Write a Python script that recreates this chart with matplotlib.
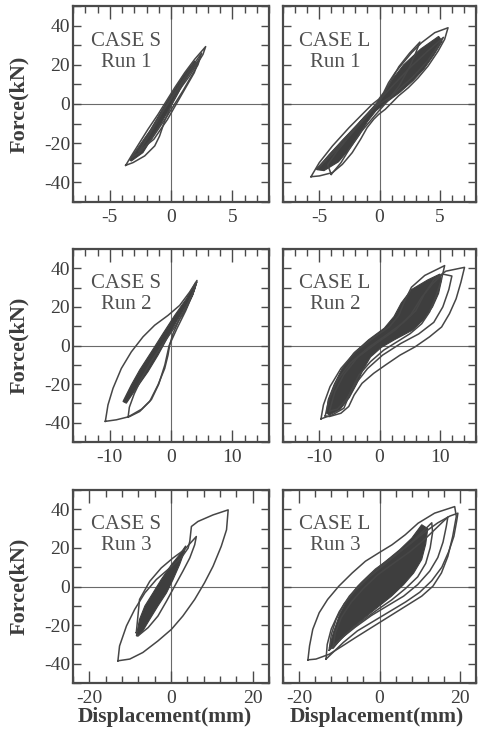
import matplotlib
matplotlib.use('Agg')
import matplotlib.pyplot as plt
from matplotlib.ticker import MultipleLocator

plt.rcParams['font.family'] = ['Liberation Serif', 'DejaVu Serif']
plt.rcParams['axes.unicode_minus'] = False

# ---------------- data (displacement mm, force kN) ----------------
Y_TICKS = [-40, -20, 0, 20, 40]
CASES = ['CASE S', 'CASE L']
RUNS = ['Run 1', 'Run 2', 'Run 3']
XLIMS = [8, 16, 24]
X_MAJOR = [5, 10, 20]
X_MINOR = [1, 2, 4]

# CASE S Run 1
S1_OUTER = [(-3.70, -31.3), (-3.24, -26.5), (-2.56, -19.7), (-1.88, -12.9), (-1.06, -5.3),
            (-0.38, 1.5), (0.30, 8.3), (1.12, 16.0), (1.93, 22.8), (2.83, 29.3),
            (2.61, 25.3), (2.20, 21.1), (1.52, 14.3), (0.71, 7.5), (0.16, 1.5),
            (-0.11, -2.7), (-0.52, -8.7), (-0.93, -16.3), (-1.33, -21.4), (-2.15, -26.5),
            (-3.10, -29.9)]
S1_LOOP2 = [(-3.2, -27), (-1.5, -12), (0.0, 3), (1.5, 17), (2.5, 26), (2.2, 20), (1.0, 7),
            (-0.3, -6), (-1.6, -18), (-2.6, -25)]
S1_LOOP3 = [(-2.6, -24), (-1.8, -16), (-0.7, -4), (0.6, 8), (1.8, 18), (2.3, 23), (1.9, 16),
            (0.8, 4), (-0.3, -8), (-1.4, -18)]
S1_CORE = [(-3.37, -28.6), (-1.74, -13.8), (-0.38, 0.7), (0.98, 14.3), (1.93, 21.9),
           (2.07, 21.1), (1.12, 11.7), (0.16, 0.7), (-0.93, -11.2), (-2.29, -24.8),
           (-3.24, -29.1)]

# CASE L Run 1
L1_OUTER = [(-5.68, -37.1), (-4.99, -29.9), (-3.90, -21.4), (-2.53, -12.1), (-1.44, -5.3),
            (-0.61, -0.2), (-0.07, 2.4), (0.34, 5.8), (0.75, 10.9), (1.30, 16.0),
            (1.85, 20.2), (2.67, 26.2), (3.49, 31.3), (4.58, 36.4), (5.68, 38.9),
            (5.40, 33.0), (4.86, 27.0), (4.03, 19.4), (3.21, 13.4), (2.39, 8.3),
            (1.57, 4.1), (1.03, 0.7), (0.48, -2.7), (-0.07, -5.3), (-0.48, -7.8),
            (-1.03, -12.1), (-1.57, -18.0), (-2.26, -24.8), (-3.08, -30.8), (-3.90, -35.0),
            (-4.99, -36.7)]
L1_LOOP2 = [(-4.0, -35.9), (-4.3, -31), (-3.5, -24), (-2.3, -15), (-1.0, -6), (0.0, 1),
            (0.8, 10), (1.6, 19), (2.5, 26), (3.35, 31.6), (3.0, 26), (2.5, 19), (1.6, 9),
            (0.6, 1), (-0.4, -6), (-1.5, -14), (-2.5, -23), (-3.2, -30)]
L1_LOOP3 = [(-5.2, -33), (-4.0, -25), (-2.5, -15), (-1.0, -5), (0.0, 2), (1.2, 10),
            (2.6, 19), (4.0, 27), (5.3, 34), (4.9, 30), (4.0, 22), (2.8, 14), (1.0, 4),
            (-0.3, -1), (-1.3, -7), (-2.6, -17), (-3.8, -25), (-4.8, -31)]
L1_CORE = [(-5.2, -33.5), (-4.2, -26), (-3.0, -18), (-1.6, -9), (-0.4, -1), (0.3, 5),
           (1.0, 12), (2.0, 20), (3.4, 28), (4.9, 34.5), (5.2, 32), (4.5, 25), (3.7, 18),
           (2.8, 12), (1.7, 6), (0.6, 1), (-0.3, -3.5), (-1.0, -9), (-1.7, -16),
           (-2.5, -23), (-3.4, -29.5), (-4.6, -34)]

# CASE S Run 2
S2_OUTER = [(-10.72, -39.3), (-10.29, -30.8), (-9.47, -22.2), (-8.11, -11.9), (-6.48, -3.3),
            (-4.57, 4.5), (-2.67, 10.5), (-0.49, 15.6), (1.42, 20.8), (3.05, 27.7),
            (4.24, 33.7), (3.86, 29.4), (2.78, 21.6), (1.42, 13.9), (0.33, 6.2),
            (-0.22, 0.2), (-0.49, -5.0), (-1.03, -11.9), (-2.12, -20.4), (-3.48, -29.0),
            (-5.12, -34.2), (-6.75, -36.8), (-8.92, -38.5)]
S2_LOOP2 = [(-7.0, -37), (-6.8, -32), (-6.0, -25), (-4.8, -17), (-3.2, -8), (-1.5, 0),
            (0.5, 9), (2.2, 18), (3.5, 26), (4.2, 33), (3.6, 27), (2.4, 18), (1.0, 9),
            (-0.3, 0), (-1.0, -10), (-2.0, -20), (-3.2, -28), (-4.8, -33)]
S2_CORE = [(-7.84, -29.0), (-6.48, -20.4), (-5.12, -12.7), (-3.21, -3.3), (-1.31, 6.2),
           (0.60, 15.6), (2.50, 24.2), (4.03, 32.8), (3.86, 29.4), (2.50, 20.8),
           (0.87, 12.2), (-0.49, 4.5), (-2.12, -5.0), (-3.76, -13.6), (-5.66, -22.2),
           (-7.29, -29.9)]

# CASE L Run 2
L2_LOOP_A = [(-9.7, -38.0), (-9.3, -30.8), (-8.2, -21.3), (-6.4, -11.9), (-4.0, -3.3),
             (-1.0, 4.0), (1.6, 9.6), (3.2, 15.6), (4.1, 22.5), (5.3, 30.2), (7.5, 36.3),
             (10.8, 41.4), (10.3, 34.5), (9.4, 25.9), (8.3, 17.4), (7.0, 11.3), (5.1, 6.2),
             (2.9, 1.9), (0.7, -2.4), (-1.5, -8.4), (-3.4, -15.3), (-4.8, -23.9),
             (-5.9, -32.5), (-7.8, -35.9)]
L2_LOOP_B = [(-9.0, -36.5), (-8.4, -28), (-7.0, -18), (-4.8, -9), (-1.8, -1), (1.4, 6),
             (4.0, 12), (6.0, 18), (7.5, 27), (9.0, 34), (11.0, 38.5), (14.1, 40.5),
             (13.5, 32.8), (12.7, 24.2), (11.6, 16.5), (10.3, 9.6), (8.3, 4.5), (5.9, -0.7),
             (3.4, -5.0), (1.0, -10.1), (-0.96, -14.4), (-2.9, -19.6), (-4.2, -25.6),
             (-5.1, -31.6), (-6.4, -35.1), (-8.3, -36.8)]
L2_LOOP_C = [(-8.3, -34), (-7.4, -24), (-5.9, -15), (-3.6, -6), (-0.6, 1), (2.6, 8),
             (5.2, 16), (7.0, 25), (8.8, 32), (10.5, 37), (12.0, 36), (11.5, 29),
             (10.5, 20), (9.0, 12), (6.5, 6), (3.5, 1), (0.5, -5), (-2.0, -12),
             (-4.0, -20), (-5.5, -28), (-7.0, -33)]
L2_CORE = [(-8.8, -35), (-8.5, -28), (-7.5, -20), (-6.2, -12), (-4.3, -4), (-1.8, 3),
           (0.8, 9), (2.4, 15), (3.6, 22), (5.3, 29), (8.0, 34), (10.0, 37), (10.3, 34),
           (9.8, 27), (8.8, 20), (7.5, 14), (5.5, 8), (2.5, 3), (0.3, -1), (-1.5, -6),
           (-2.8, -13), (-3.8, -20), (-5.0, -27), (-6.5, -33), (-8.3, -36)]

# CASE S Run 3
S3_OUTER = [(-13.0, -38.5), (-12.6, -30.8), (-10.9, -20.4), (-8.9, -11.9), (-6.4, -3.3),
            (-3.6, 3.6), (-0.3, 9.6), (2.5, 14.8), (4.2, 19.9), (4.6, 23.4), (5.0, 31.1),
            (6.6, 33.7), (10.3, 37.1), (14.0, 39.7), (13.6, 29.4), (12.3, 20.8),
            (10.3, 10.5), (8.2, 1.9), (5.8, -6.7), (2.9, -15.3), (0.1, -22.2),
            (-3.2, -28.2), (-6.9, -34.2), (-10.1, -37.6)]
S3_LOOP2 = [(-8.5, -23.9), (-7.7, -6.7), (-5.2, 2.7), (-2.4, 9.6), (0.5, 14.8), (3.3, 19.1),
            (6.2, 25.9), (5.8, 21.6), (4.6, 14.8), (2.9, 7.9), (0.9, 0.2), (-1.1, -7.6),
            (-3.2, -15.3), (-5.6, -21.3), (-8.1, -25.6)]
S3_CORE = [(-8.5, -25.6), (-7.7, -17.0), (-6.4, -10.1), (-4.4, -3.3), (-2.4, 3.6),
           (0.1, 11.3), (2.1, 16.5), (3.6, 21.1), (3.3, 18.2), (2.1, 11.3), (0.5, 3.6),
           (-1.1, -3.3), (-3.2, -10.1), (-5.2, -17.0), (-6.9, -23.0), (-8.1, -25.6)]

# CASE L Run 3
L3_OUTER = [(-17.8, -38.0), (-17.4, -30.8), (-16.6, -22.2), (-15.0, -13.6), (-12.9, -6.7),
            (-10.1, 0.2), (-6.8, 7.0), (-3.5, 13.1), (-0.2, 17.4), (3.1, 21.6), (6.4, 26.8),
            (9.6, 32.8), (13.7, 38.0), (18.7, 41.4), (19.1, 36.3), (18.2, 25.9),
            (17.0, 15.6), (15.4, 7.0), (13.3, 0.2), (10.5, -5.0), (7.2, -9.3), (3.9, -13.6),
            (0.6, -17.9), (-2.7, -22.2), (-6.0, -26.5), (-9.2, -30.8), (-12.5, -35.1),
            (-15.8, -37.6)]
L3_LOOP2 = [(-13.3, -37.6), (-13.0, -30), (-12.0, -22), (-10.0, -13), (-7.5, -5), (-4.5, 2),
            (-1.0, 9), (3.0, 15), (7.0, 21), (10.5, 27), (14.5, 33), (17.5, 36.5), (19.5, 38),
            (19.2, 34), (18.5, 26), (17.2, 18), (15.5, 10), (13.0, 3), (10.0, -3), (6.5, -8),
            (2.5, -13), (-1.5, -18), (-5.5, -23), (-9.0, -29), (-11.5, -34)]
L3_LOOP3 = [(-11.5, -31), (-11.0, -24), (-9.5, -16), (-7.0, -8), (-4.0, -1), (-0.5, 6),
            (3.5, 12), (7.5, 18), (11.0, 24), (14.5, 31), (17.0, 36), (16.6, 31), (15.8, 23),
            (14.5, 15), (12.5, 8), (9.5, 1), (6.0, -5), (2.0, -10), (-2.0, -15), (-6.0, -21),
            (-9.0, -26)]
L3_LOOP4 = [(-12.5, -33), (-12.0, -25), (-10.8, -17), (-8.8, -9), (-6.0, -2), (-2.5, 5),
            (1.0, 11), (4.5, 17), (8.0, 23), (11.0, 29), (13.0, 33), (13.2, 28), (12.6, 20),
            (11.5, 12), (9.5, 5), (6.5, -1), (3.0, -7), (-0.5, -12), (-4.5, -18),
            (-8.0, -24), (-11.0, -30)]
L3_CORE = [(-12.5, -32), (-11.5, -24), (-10.0, -15), (-8.0, -7), (-5.5, 0), (-2.0, 7),
           (1.5, 13), (5.0, 19), (8.0, 25), (10.5, 32), (12.0, 30), (11.5, 22), (10.5, 14),
           (8.5, 7), (6.0, 1), (3.0, -5), (0.0, -10), (-3.0, -15), (-6.5, -21),
           (-9.5, -27), (-11.5, -32)]

PANELS = [
    [(S1_OUTER, S1_LOOP2, S1_LOOP3), S1_CORE],
    [(L1_OUTER, L1_LOOP2, L1_LOOP3), L1_CORE],
    [(S2_OUTER, S2_LOOP2), S2_CORE],
    [(L2_LOOP_A, L2_LOOP_B, L2_LOOP_C), L2_CORE],
    [(S3_OUTER, S3_LOOP2), S3_CORE],
    [(L3_OUTER, L3_LOOP2, L3_LOOP3, L3_LOOP4), L3_CORE],
]

# ---------------- figure ----------------
W, H = 478, 748
fig = plt.figure(figsize=(W / 100, H / 100), dpi=100)

col_left = [73 / W, 283 / W]
col_w = [196 / W, 193 / W]
rows_px = [(6, 202), (249, 442), (490, 683)]

LINE = '#464646'
CORE = '#3e3e3e'
TXT = '#3c3c3c'

def closed(pts):
    xs = [p[0] for p in pts] + [pts[0][0]]
    ys = [p[1] for p in pts] + [pts[0][1]]
    return xs, ys

for r in range(3):
    top, bot = rows_px[r]
    for c in range(2):
        ax = fig.add_axes([col_left[c], 1 - bot / H, col_w[c], (bot - top) / H])
        loops, core = PANELS[r * 2 + c]
        lim = XLIMS[r]
        ax.set_xlim(-lim, lim)
        ax.set_ylim(-50, 50)
        ax.axhline(0, color='#6a6a6a', lw=0.8, zorder=1)
        ax.axvline(0, color='#6a6a6a', lw=0.8, zorder=1)
        cx, cy = closed(core)
        ax.fill(cx, cy, color=CORE, lw=0.8, ec=CORE, zorder=2)
        for lp in loops:
            lx, ly = closed(lp)
            ax.plot(lx, ly, color=LINE, lw=1.1, zorder=3, solid_joinstyle='round')
        ax.xaxis.set_major_locator(MultipleLocator(X_MAJOR[r]))
        ax.xaxis.set_minor_locator(MultipleLocator(X_MINOR[r]))
        ax.set_yticks(Y_TICKS)
        ax.set_yticklabels([str(v) for v in Y_TICKS])
        ax.yaxis.set_minor_locator(MultipleLocator(10))
        ax.xaxis.set_tick_params(which='major', direction='in', length=9, width=1.0,
                                 top=True, bottom=True, color='#4a4a4a', pad=5,
                                 labelsize=14, labelcolor=TXT)
        ax.xaxis.set_tick_params(which='minor', direction='in', length=5, width=1.0,
                                 top=True, bottom=True, color='#4a4a4a')
        ax.yaxis.set_tick_params(which='both', direction='in', length=6, width=1.0,
                                 left=True, right=True, color='#4a4a4a', pad=2,
                                 labelsize=14, labelcolor=TXT)
        if c == 1:
            ax.tick_params(axis='y', labelleft=False)
        for sp in ax.spines.values():
            sp.set_linewidth(1.6)
            sp.set_color('#4a4a4a')
        ax.text(0.27, 0.82, CASES[c], transform=ax.transAxes, ha='center', va='center',
                fontsize=15, color='#505050')
        ax.text(0.27, 0.71, RUNS[r], transform=ax.transAxes, ha='center', va='center',
                fontsize=15, color='#505050')
    fig.text(19 / W, 1 - ((top + bot) / 2) / H, 'Force(kN)', rotation=90, ha='center',
             va='center', fontsize=16, fontweight='bold', color=TXT)

fig.text(165 / W, 1 - 717 / H, 'Displacement(mm)', ha='center', va='center',
         fontsize=15.5, fontweight='bold', color=TXT)
fig.text(377 / W, 1 - 717 / H, 'Displacement(mm)', ha='center', va='center',
         fontsize=15.5, fontweight='bold', color=TXT)

fig.savefig('out.png', dpi=100)
